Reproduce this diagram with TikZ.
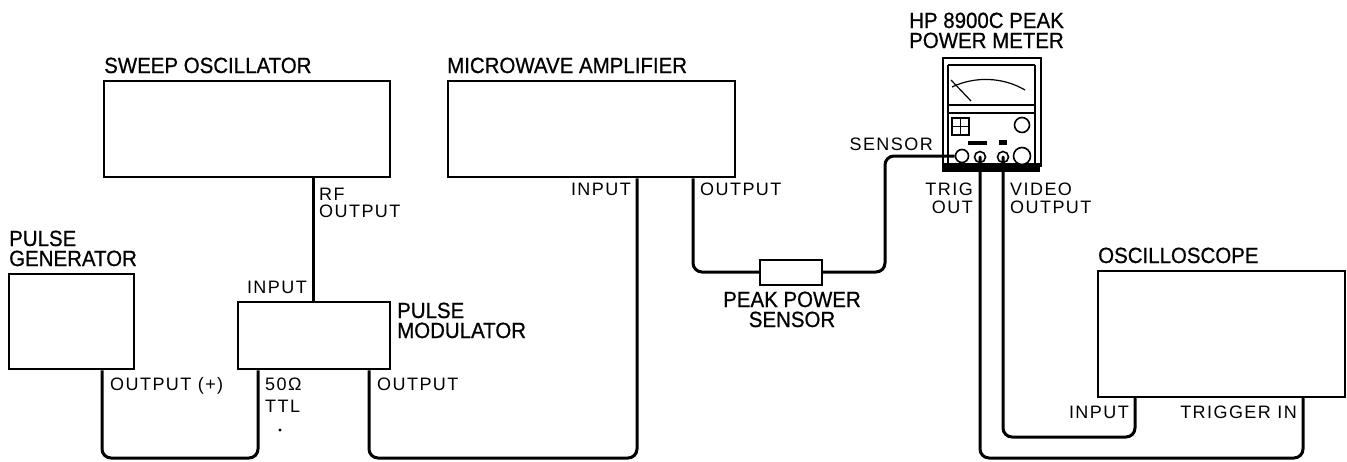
\documentclass[tikz,border=0pt]{standalone}
\usepackage{fontspec}
\setmainfont{Liberation Sans}
\newfontfamily\headfont{Liberation Sans}[FakeStretch=0.93,FakeBold=0.7]
\newfontfamily\lblfont{Liberation Sans}[LetterSpace=8]
\begin{document}
\begin{tikzpicture}[x=1pt,y=-1pt,
  box/.style={draw, line width=2.4pt, inner sep=0pt, anchor=north west},
  wire/.style={line width=3pt, rounded corners=9pt},
  head/.style={inner sep=0pt, font=\headfont\fontsize{22}{24}\selectfont},
  lbl/.style={inner sep=0pt, font=\lblfont\fontsize{18}{20}\selectfont},
  fine/.style={line width=1.2pt},
  jack/.style={circle, draw, line width=1.6pt, inner sep=0pt, fill=white}]
\useasboundingbox (0,0) rectangle (1347,461);

% instrument boxes
\node[box, minimum width=286pt, minimum height=96pt] (sweep) at (103,80) {};
\node[box, minimum width=287pt, minimum height=96pt] (amp) at (447,80) {};
\node[box, minimum width=125pt, minimum height=95pt] (pgen) at (8,273) {};
\node[box, minimum width=152pt, minimum height=67pt] (pmod) at (237,301) {};
\node[box, minimum width=247pt, minimum height=126pt] (scope) at (1097,270) {};
\node[draw, line width=2pt, inner sep=0pt, minimum width=62pt, minimum height=25pt] (psens) at (791,272) {};

% peak power meter
\node[box, minimum width=98pt, minimum height=108pt] (meter) at (942,57) {};
\fill (942,163) rectangle (1040,172);
\draw[fine] (948,65) -- (1035,65);
\draw[fine] (948,65) -- (948,164);
\draw[fine] (1035,65) -- (1035,164);
\draw[line width=1.6pt] (948,105) -- (1035,105);
\draw[fine] (948,113) -- (1035,113);
\draw[fine] (952,87) .. controls (975,76) and (1003,77) .. (1025,90);
\draw[fine] (951,80) -- (971,101);
\draw[line width=1.6pt] (952,118) rectangle (969,135);
\draw[fine] (960.5,118) -- (960.5,135);
\draw[fine] (952,126.5) -- (969,126.5);
\fill (968,141) rectangle (987,145);
\fill (999,140) rectangle (1007,145);
\node[jack, minimum size=15pt] (mknob) at (1022,125) {};
\node[jack, minimum size=13pt] (msens) at (962,156) {};
\node[jack, minimum size=11pt] (mtrig) at (980,157) {};
\node[jack, minimum size=11pt] (mvid) at (1003,157) {};
\node[jack, minimum size=17pt] (mbig) at (1022,156) {};

% ports
\coordinate (sweepRF) at ([xshift=210pt]sweep.south west);
\coordinate (pmodIn) at ([xshift=76pt]pmod.north west);
\coordinate (pgenOut) at ([xshift=94pt]pgen.south west);
\coordinate (pmodTTL) at ([xshift=21pt]pmod.south west);
\coordinate (pmodOut) at ([xshift=132pt]pmod.south west);
\coordinate (ampIn) at ([xshift=190pt]amp.south west);
\coordinate (ampOut) at ([xshift=246pt]amp.south west);
\coordinate (scopeIn) at ([xshift=38pt]scope.south west);
\coordinate (scopeTrig) at ([xshift=206pt]scope.south west);
\coordinate (lowA) at (0,458);
\coordinate (lowB) at (0,437);
\coordinate (rise) at (885,0);

% cables
\draw[wire] (sweepRF) -- (pmodIn);
\draw[wire] (pgenOut) |- (pmodTTL |- lowA) -- (pmodTTL);
\draw[wire] (pmodOut) |- (ampIn |- lowA) -- (ampIn);
\draw[wire] (ampOut) |- (psens.west);
\draw[wire] (psens.east) -- (psens.east -| rise) -- (rise |- msens.west) -- (msens.west);
\draw[wire, line cap=round] (mtrig.center) |- (scopeTrig |- lowA) -- (scopeTrig);
\draw[wire, line cap=round] (mvid.center) |- (scopeIn |- lowB) -- (scopeIn);
\fill (280,430) circle (1.6pt);

% instrument titles
\node[head, anchor=base west] (tSweep) at (104,73) {SWEEP OSCILLATOR};
\node[head, anchor=base west] (tAmp) at (447,73) {MICROWAVE AMPLIFIER};
\node[head, anchor=base west] (tGenA) at (9,246) {PULSE};
\node[head, anchor=base west] (tGenB) at (9,266) {GENERATOR};
\node[head, anchor=base west] (tModA) at (397,318) {PULSE};
\node[head, anchor=base west] (tModB) at (397,338) {MODULATOR};
\node[head, anchor=base] (tSensA) at (792,307) {PEAK POWER};
\node[head, anchor=base] (tSensB) at (792,327) {SENSOR};
\node[head, anchor=base west] (tMeterA) at (909,28) {HP 8900C PEAK};
\node[head, anchor=base west] (tMeterB) at (909,48) {POWER METER};
\node[head, anchor=base west] (tScope) at (1098,263) {OSCILLOSCOPE};

% port labels
\node[lbl, anchor=base west] (lRFa) at (319,200) {RF};
\node[lbl, anchor=base west] (lRFb) at (319,217) {OUTPUT};
\node[lbl, anchor=base east] (lModIn) at (307,293) {INPUT};
\node[lbl, anchor=base west] (lGenOut) at (110,390) {OUTPUT (+)};
\node[lbl, anchor=base west] (lTTLa) at (265,390) {50Ω};
\node[lbl, anchor=base west] (lTTLb) at (265,412) {TTL};
\node[lbl, anchor=base west] (lModOut) at (377,390) {OUTPUT};
\node[lbl, anchor=base east] (lAmpIn) at (631,195) {INPUT};
\node[lbl, anchor=base west] (lAmpOut) at (700,195) {OUTPUT};
\node[lbl, anchor=base east] (lSens) at (933,150) {SENSOR};
\node[lbl, anchor=base east] (lTrigA) at (973,195) {TRIG};
\node[lbl, anchor=base east] (lTrigB) at (973,213) {OUT};
\node[lbl, anchor=base west] (lVidA) at (1010,195) {VIDEO};
\node[lbl, anchor=base west] (lVidB) at (1010,213) {OUTPUT};
\node[lbl, anchor=base east] (lScIn) at (1129,418) {INPUT};
\node[lbl, anchor=base east] (lScTrig) at (1297,418) {TRIGGER IN};
\end{tikzpicture}
\end{document}
